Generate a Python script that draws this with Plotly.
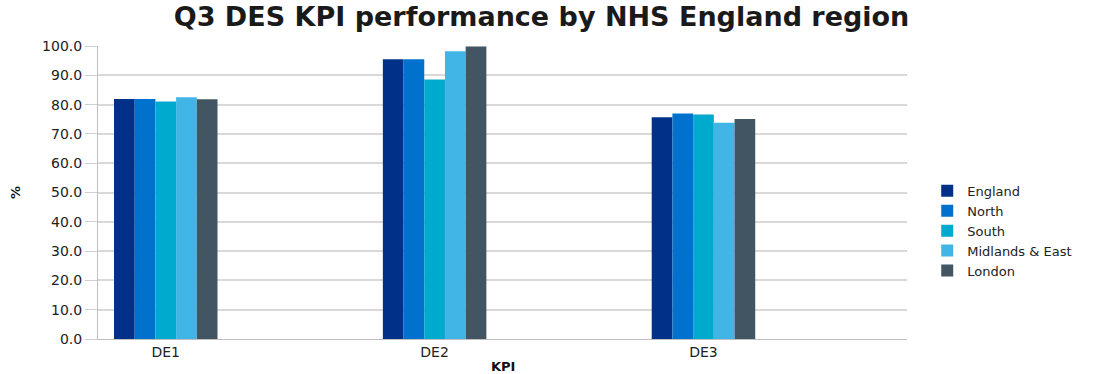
import plotly.graph_objects as go

categories = ["DE1", "DE2", "DE3"]
regions = ["England", "North", "South", "Midlands & East", "London"]
england = [81.9, 95.5, 75.7]
north = [81.9, 95.5, 77.0]
south = [81.1, 88.6, 76.6]
midlands_east = [82.5, 98.2, 73.8]
london = [81.8, 99.8, 75.1]
series = [england, north, south, midlands_east, london]
colors = ["#003087", "#0072CE", "#00A9CE", "#41B6E6", "#425563"]
y_ticks = [0, 10, 20, 30, 40, 50, 60, 70, 80, 90, 100]

FONT = "DejaVu Sans"

fig = go.Figure()
for name, vals, col in zip(regions, series, colors):
    fig.add_trace(go.Bar(x=categories, y=vals, name=name,
                         marker=dict(color=col, line=dict(width=0))))

fig.update_layout(
    width=1112, height=374,
    paper_bgcolor="white", plot_bgcolor="white",
    margin=dict(l=98, r=205, t=46, b=35, autoexpand=False),
    barmode="group", bargap=0.615, bargroupgap=0,
    title=dict(text="<b>Q3 DES KPI performance by NHS England region</b>",
               x=0.487, xanchor="center", y=0.955, yanchor="middle",
               font=dict(family=FONT, size=27, color="#1a1a1a")),
    font=dict(family=FONT, size=13, color="#333333"),
    legend=dict(x=1.025, xanchor="left", y=0.369, yanchor="middle",
                font=dict(family=FONT, size=13, color="#222222"),
                tracegroupgap=0, itemwidth=30, traceorder="normal"),
    xaxis=dict(type="category", range=[-0.252, 2.757], automargin=False,
               showline=True, linecolor="#bfbfbf", linewidth=1,
               ticks="", tickfont=dict(family=FONT, size=14, color="#222222")),
    yaxis=dict(range=[0, 100], tickvals=y_ticks, tickformat=".1f", automargin=False,
               showgrid=True, gridcolor="#d9d9d9", gridwidth=1.5,
               showline=True, linecolor="#bfbfbf", linewidth=1,
               ticks="outside", ticklen=12, tickcolor="#d0d0d0",
               tickfont=dict(family=FONT, size=14, color="#222222"),
               zeroline=False),
    annotations=[
        dict(text="<b>KPI</b>", xref="paper", yref="paper", x=0.5, y=-0.095,
             xanchor="center", yanchor="middle", showarrow=False,
             font=dict(family=FONT, size=13, color="#111111")),
        dict(text="<b>%</b>", xref="paper", yref="paper", x=-0.102, y=0.5,
             xanchor="center", yanchor="middle", showarrow=False, textangle=-90,
             font=dict(family=FONT, size=13, color="#111111")),
    ],
)

fig.write_html("out.html")
